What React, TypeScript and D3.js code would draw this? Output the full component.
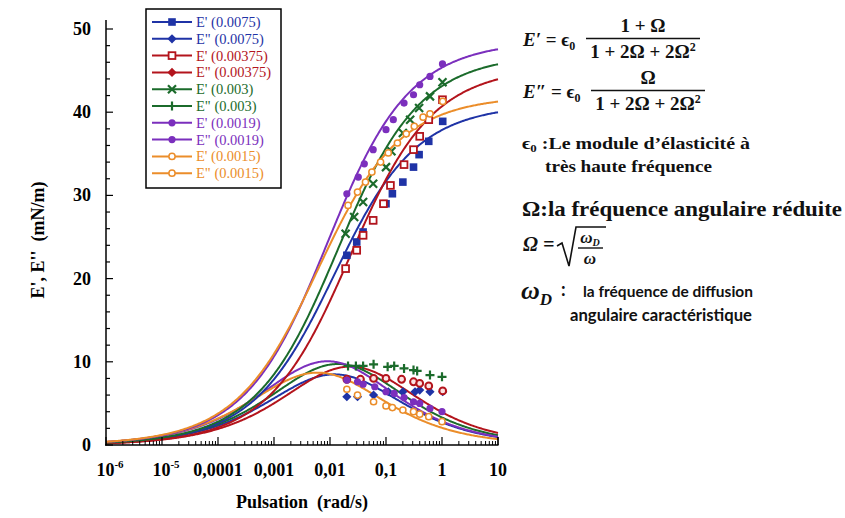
import React from "react";
import * as d3 from "d3";

// ---------- data ----------
const seriesNames = ["0.0075", "0.00375", "0.003", "0.0019", "0.0015"];
const seriesColors = ["#1f33a6", "#b3141c", "#1b6b2b", "#7b2fbd", "#eb8d2a"];

// fit parameters (E' plateau and diffusion frequency)
const fitEps0 = [41, 45.5, 47, 48.6, 42];
const fitOmegaD = [0.006, 0.0115, 0.0069, 0.0045, 0.003];

// E' measured points
const blueEpW = [0.02, 0.03, 0.039, 0.059, 0.1, 0.13, 0.2, 0.31, 0.39, 0.58, 1.03];
const blueEpV = [22.8, 24.4, 25.6, 27.0, 29.0, 30.2, 31.6, 33.4, 34.9, 36.5, 38.9];
const redEpW = [0.019, 0.03, 0.039, 0.059, 0.09, 0.12, 0.21, 0.31, 0.4, 0.58, 1.02];
const redEpV = [21.2, 23.4, 25.2, 27.0, 29.0, 31.2, 33.7, 35.5, 37.1, 39.1, 41.5];
const greenEpW = [0.019, 0.027, 0.039, 0.059, 0.1, 0.125, 0.2, 0.27, 0.39, 0.61, 1.02];
const greenEpV = [25.4, 27.4, 29.2, 31.4, 33.4, 35.3, 37.5, 39.1, 40.5, 41.9, 43.6];
const purpleEpW = [0.02, 0.032, 0.041, 0.059, 0.1, 0.135, 0.21, 0.31, 0.4, 0.61, 1.02];
const purpleEpV = [30.2, 32.2, 33.8, 35.5, 37.9, 39.1, 41.1, 42.1, 43.3, 44.3, 45.8];
const orangeEpW = [0.021, 0.031, 0.043, 0.056, 0.08, 0.11, 0.16, 0.23, 0.32, 0.46, 0.61, 1.03];
const orangeEpV = [28.8, 30.4, 31.6, 32.8, 34.0, 35.1, 36.3, 37.4, 38.3, 39.4, 39.8, 41.3];

// E'' measured points
const blueEppW = [0.02, 0.031, 0.06, 0.11, 0.2, 0.33, 0.4, 0.61, 1.03];
const blueEppV = [5.8, 5.8, 6.0, 6.4, 6.4, 6.4, 6.6, 6.4, 6.4];
const redEppW = [0.02, 0.035, 0.06, 0.1, 0.19, 0.31, 0.4, 0.58, 1.03];
const redEppV = [7.9, 7.9, 8.0, 8.0, 7.9, 7.6, 7.4, 7.1, 6.5];
const greenEppW = [0.021, 0.029, 0.039, 0.06, 0.107, 0.14, 0.21, 0.31, 0.36, 0.61, 1.0];
const greenEppV = [9.5, 9.5, 9.5, 9.7, 9.4, 9.5, 9.2, 9.0, 8.9, 8.4, 8.2];
const purpleEppW = [0.02, 0.031, 0.039, 0.063, 0.1, 0.14, 0.21, 0.31, 0.4, 0.61, 1.0];
const purpleEppV = [7.8, 7.6, 7.3, 7.0, 6.4, 6.2, 5.7, 5.2, 5.0, 4.4, 4.0];
const orangeEppW = [0.02, 0.031, 0.06, 0.1, 0.13, 0.2, 0.31, 0.4, 0.58, 1.0];
const orangeEppV = [6.7, 6.0, 5.2, 4.7, 4.5, 4.2, 4.0, 3.7, 3.4, 2.8];

const xTickMain = ["10", "10", "0,0001", "0,001", "0,01", "0,1", "1", "10"];
const xTickSup = ["-6", "-5", "", "", "", "", "", ""];
const yTickLabels = ["0", "10", "20", "30", "40", "50"];

const epW = [blueEpW, redEpW, greenEpW, purpleEpW, orangeEpW];
const epV = [blueEpV, redEpV, greenEpV, purpleEpV, orangeEpV];
const eppW = [blueEppW, redEppW, greenEppW, purpleEppW, orangeEppW];
const eppV = [blueEppV, redEppV, greenEppV, purpleEppV, orangeEppV];

// marker kinds: [E' marker, E'' marker] per series
const markerKinds = [
  ["square", "diamond"],
  ["squareOpen", "circleOpenThick"],
  ["cross", "plus"],
  ["dot", "dot"],
  ["circleOpen", "circleOpen"],
];

// ---------- layout ----------
const W = 845;
const H = 518;
const x = d3.scaleLog().domain([1e-6, 10]).range([106, 498]);
const y = d3.scaleLinear().domain([0, 50]).range([445, 29]);

function Marker({ kind, cx, cy, color }: { kind: string; cx: number; cy: number; color: string }) {
  switch (kind) {
    case "square":
      return <rect x={cx - 3.8} y={cy - 3.8} width={7.6} height={7.6} fill={color} />;
    case "squareOpen":
      return <rect x={cx - 3.4} y={cy - 3.4} width={6.8} height={6.8} fill="#fff" stroke={color} strokeWidth={1.8} />;
    case "diamond":
      return (
        <path d={`M${cx},${cy - 4.6}L${cx + 4.6},${cy}L${cx},${cy + 4.6}L${cx - 4.6},${cy}Z`} fill={color} />
      );
    case "circleOpenThick":
      return <circle cx={cx} cy={cy} r={3.4} fill="#fbe3e3" stroke={color} strokeWidth={2} />;
    case "cross":
      return (
        <path d={`M${cx - 4},${cy - 4}L${cx + 4},${cy + 4}M${cx - 4},${cy + 4}L${cx + 4},${cy - 4}`} stroke={color} strokeWidth={2.2} />
      );
    case "plus":
      return (
        <path d={`M${cx - 4.5},${cy}L${cx + 4.5},${cy}M${cx},${cy - 4.5}L${cx},${cy + 4.5}`} stroke={color} strokeWidth={2.2} />
      );
    case "dot":
      return <circle cx={cx} cy={cy} r={3.6} fill={color} />;
    case "circleOpen":
      return <circle cx={cx} cy={cy} r={3.1} fill="#fff" stroke={color} strokeWidth={1.5} />;
    default:
      return null;
  }
}

export default function App() {
  const grid = d3.range(0, 401).map((i) => Math.pow(10, -6 + (7 * i) / 400));
  const line = d3
    .line<[number, number]>()
    .x((d) => x(d[0]))
    .y((d) => y(d[1]))
    .curve(d3.curveLinear);

  const curvesEp = fitEps0.map((e0, i) =>
    grid.map((w) => {
      const O = Math.sqrt(fitOmegaD[i] / w);
      return [w, (e0 * (1 + O)) / (1 + 2 * O + 2 * O * O)] as [number, number];
    })
  );
  const curvesEpp = fitEps0.map((e0, i) =>
    grid.map((w) => {
      const O = Math.sqrt(fitOmegaD[i] / w);
      return [w, (e0 * O) / (1 + 2 * O + 2 * O * O)] as [number, number];
    })
  );

  const majorX = d3.range(-6, 2).map((k) => Math.pow(10, k));
  const minorX = x.ticks().filter((t) => {
    const l = Math.log10(t);
    return Math.abs(l - Math.round(l)) > 1e-6;
  });
  const yTicksAll = d3.range(0, 51, 2);

  const legendRows: { label: string; color: string; kind: string }[] = [];
  seriesNames.forEach((n, i) => {
    legendRows.push({ label: `E' (${n})`, color: seriesColors[i], kind: markerKinds[i][0] });
    legendRows.push({ label: `E" (${n})`, color: seriesColors[i], kind: i === 1 ? "diamond" : markerKinds[i][1] });
  });

  const serif = "'Liberation Serif', 'Times New Roman', serif";
  const mathFont = "'Liberation Serif', serif";
  const sans = "Lato, 'Open Sans', sans-serif";

  return (
    <svg
      width={W}
      height={H}
      viewBox={`0 0 ${W} ${H}`}
      style={{ position: "absolute", left: 0, top: 0, background: "#fff" }}
    >
      <rect x={0} y={0} width={W} height={H} fill="#fff" />

      {/* curves */}
      {curvesEpp.map((c, i) => (
        <path key={"cpp" + i} d={line(c) || ""} fill="none" stroke={seriesColors[i]} strokeWidth={2} />
      ))}
      {curvesEp.map((c, i) => (
        <path key={"cp" + i} d={line(c) || ""} fill="none" stroke={seriesColors[i]} strokeWidth={2} />
      ))}

      {/* points */}
      {eppW.map((ws, i) =>
        ws.map((w, j) => (
          <Marker key={`pp${i}-${j}`} kind={markerKinds[i][1]} cx={x(w)} cy={y(eppV[i][j])} color={seriesColors[i]} />
        ))
      )}
      {epW.map((ws, i) =>
        ws.map((w, j) => (
          <Marker key={`p${i}-${j}`} kind={markerKinds[i][0]} cx={x(w)} cy={y(epV[i][j])} color={seriesColors[i]} />
        ))
      )}

      {/* axes */}
      <line x1={106} y1={20} x2={106} y2={445.5} stroke="#000" strokeWidth={1.5} />
      <line x1={105} y1={445} x2={498.5} y2={445} stroke="#000" strokeWidth={1.5} />
      {yTicksAll.map((t) => (
        <line key={"yt" + t} x1={106} x2={106 + (t % 10 === 0 ? 7 : 4)} y1={y(t)} y2={y(t)} stroke="#000" strokeWidth={1.2} />
      ))}
      {majorX.concat([10]).map((t) => (
        <line key={"xM" + t} x1={x(t)} x2={x(t)} y1={445} y2={437} stroke="#000" strokeWidth={1.2} />
      ))}
      {minorX.map((t) => (
        <line key={"xm" + t} x1={x(t)} x2={x(t)} y1={445} y2={441} stroke="#000" strokeWidth={1} />
      ))}

      {yTickLabels.map((l) => (
        <text key={"yl" + l} x={91} y={y(+l) + 6} textAnchor="end" fontFamily={serif} fontWeight="bold" fontSize={18}>
          {l}
        </text>
      ))}
      {xTickMain.map((l, i) => (
        <text key={"xl" + i} x={x(Math.pow(10, i - 6)) + (xTickSup[i] ? 4 : 0)} y={476} textAnchor="middle" fontFamily={serif} fontWeight="bold" fontSize={18}>
          {l}
          {xTickSup[i] ? (
            <tspan fontSize={11} dy={-8}>
              {xTickSup[i]}
            </tspan>
          ) : null}
        </text>
      ))}
      <text x={302} y={508} textAnchor="middle" fontFamily={serif} fontWeight="bold" fontSize={18}>
        {"Pulsation\u00a0\u00a0(rad/s)"}
      </text>
      <text
        transform="translate(44,240) rotate(-90)"
        textAnchor="middle"
        fontFamily={serif}
        fontWeight="bold"
        fontSize={18}
      >
        {"E', E''\u00a0\u00a0(mN/m)"}
      </text>

      {/* legend */}
      <rect x={146} y={9} width={135} height={179} fill="#fff" stroke="#000" strokeWidth={1.5} />
      {legendRows.map((r, i) => {
        const ly = 22 + i * 16.8;
        return (
          <g key={"lg" + i}>
            <line x1={152} x2={192} y1={ly} y2={ly} stroke={r.color} strokeWidth={2} />
            <Marker kind={r.kind} cx={172} cy={ly} color={r.color} />
            <text x={196} y={ly + 5} fill={r.color} fontFamily={serif} fontSize={14.5}>
              {r.label}
            </text>
          </g>
        );
      })}

      {/* formulas */}
      <g fontFamily={mathFont} fontWeight="bold" fill="#111">
        <text x={523} y={46} fontSize={19}>
          <tspan fontStyle="italic">E′</tspan> = ϵ<tspan fontSize={12} dy={4}>0</tspan>
        </text>
        <text x={643} y={32} fontSize={19} textAnchor="middle">1 + Ω</text>
        <line x1={586} x2={700} y1={38.5} y2={38.5} stroke="#111" strokeWidth={1.6} />
        <text x={643} y={58} fontSize={19} textAnchor="middle">
          1 + 2Ω + 2Ω<tspan fontSize={12} dy={-7}>2</tspan>
        </text>

        <text x={523} y={98} fontSize={19}>
          <tspan fontStyle="italic">E″</tspan> = ϵ<tspan fontSize={12} dy={4}>0</tspan>
        </text>
        <text x={648} y={84} fontSize={19} textAnchor="middle">Ω</text>
        <line x1={591} x2={705} y1={90.5} y2={90.5} stroke="#111" strokeWidth={1.6} />
        <text x={648} y={110} fontSize={19} textAnchor="middle">
          1 + 2Ω + 2Ω<tspan fontSize={12} dy={-7}>2</tspan>
        </text>

        <text x={522} y={149} fontSize={17} fontFamily={serif} textLength={228} lengthAdjust="spacingAndGlyphs">
          ϵ<tspan fontSize={11} dy={3}>0</tspan>
          <tspan dy={-3}> :Le module d’élasticité à</tspan>
        </text>
        <text x={545} y={172} fontSize={17} fontFamily={serif} textLength={167} lengthAdjust="spacingAndGlyphs">
          très haute fréquence
        </text>

        <text x={522} y={216} fontSize={21} fontFamily={serif} textLength={320} lengthAdjust="spacingAndGlyphs">
          Ω:la fréquence angulaire réduite
        </text>

        <text x={523} y={251} fontSize={20} fontStyle="italic">
          Ω =
        </text>
        <path d="M557,246 L562,243 L569,266 L576,227 L606,227" fill="none" stroke="#111" strokeWidth={1.6} />
        <text x={590} y={243} fontSize={17} fontStyle="italic" textAnchor="middle">
          ω<tspan fontSize={10} dy={3}>D</tspan>
        </text>
        <line x1={578} x2={603} y1={248} y2={248} stroke="#111" strokeWidth={1.4} />
        <text x={590} y={264} fontSize={17} fontStyle="italic" textAnchor="middle">
          ω
        </text>

        <text x={521} y={299} fontSize={26} fontStyle="italic">
          ω<tspan fontSize={17} dy={6}>D</tspan>
        </text>
        <text x={561} y={296} fontSize={18} fontFamily={sans}>
          :
        </text>
        <text x={583} y={297} fontSize={16} fontFamily={sans} textLength={170} lengthAdjust="spacingAndGlyphs">
          la fréquence de diffusion
        </text>
        <text x={570} y={321} fontSize={17} fontFamily={sans} textLength={182} lengthAdjust="spacingAndGlyphs">
          angulaire caractéristique
        </text>
      </g>
    </svg>
  );
}
